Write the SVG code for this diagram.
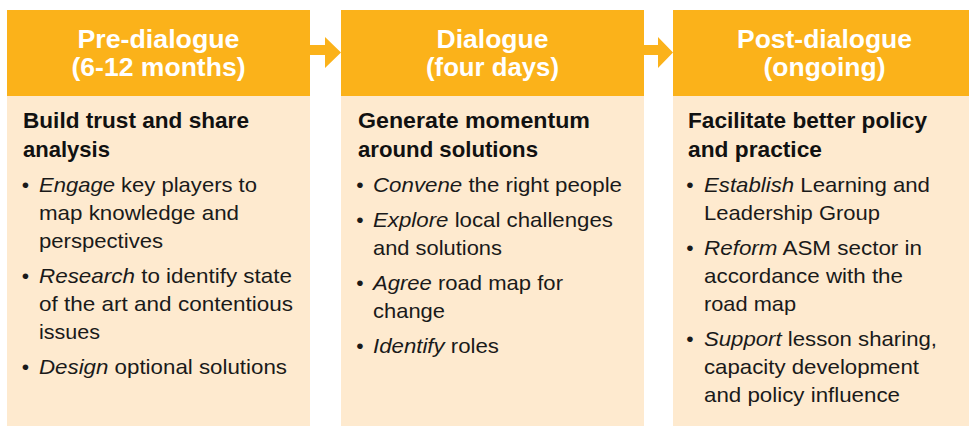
<svg xmlns="http://www.w3.org/2000/svg" width="969" height="426" viewBox="0 0 969 426">
<style>
.hdr{fill:#FBB21A}
.body{fill:#FEEACF}
.ht{font-family:"Liberation Sans",Arial,sans-serif;font-weight:bold;font-size:25px;fill:#ffffff;text-anchor:middle}
.bh{font-family:"Liberation Sans",Arial,sans-serif;font-weight:bold;font-size:21.5px;fill:#111111}
.bt{font-family:"Liberation Sans",Arial,sans-serif;font-size:21px;fill:#1a1a1a}
.bu{font-family:"Liberation Sans",Arial,sans-serif;font-size:21px;fill:#1a1a1a;text-anchor:middle}
.it{font-style:italic}
.arr{fill:#FBB21A}
</style>
<rect width="969" height="426" fill="#ffffff"/>
<g id="connectors">
<path class="arr" d="M310 45H325V37L341 52.5L325 68V55H310Z"/>
<path class="arr" d="M644 45H658V37L673 52.5L658 68V55H644Z"/>
</g>
<g id="pre-dialogue">
<rect class="hdr" x="7" y="10" width="303" height="86"/>
<rect class="body" x="7" y="96" width="303" height="330"/>
<text class="ht" x="158.5" y="48" textLength="162" lengthAdjust="spacingAndGlyphs">Pre-dialogue</text>
<text class="ht" x="158.5" y="75.5" textLength="174" lengthAdjust="spacingAndGlyphs">(6-12 months)</text>
<text class="bh" x="23" y="128" textLength="226" lengthAdjust="spacingAndGlyphs">Build trust and share</text>
<text class="bh" x="23" y="157" textLength="87" lengthAdjust="spacingAndGlyphs">analysis</text>
<text class="bu" x="25.5" y="192">•</text>
<text class="bt" x="39" y="192" textLength="218" lengthAdjust="spacingAndGlyphs"><tspan class="it">Engage</tspan> key players to</text>
<text class="bt" x="39" y="220" textLength="200" lengthAdjust="spacingAndGlyphs">map knowledge and</text>
<text class="bt" x="39" y="248" textLength="124" lengthAdjust="spacingAndGlyphs">perspectives</text>
<text class="bu" x="25.5" y="283">•</text>
<text class="bt" x="39" y="283" textLength="253" lengthAdjust="spacingAndGlyphs"><tspan class="it">Research</tspan> to identify state</text>
<text class="bt" x="39" y="311" textLength="254" lengthAdjust="spacingAndGlyphs">of the art and contentious</text>
<text class="bt" x="39" y="339" textLength="61" lengthAdjust="spacingAndGlyphs">issues</text>
<text class="bu" x="25.5" y="374">•</text>
<text class="bt" x="39" y="374" textLength="248" lengthAdjust="spacingAndGlyphs"><tspan class="it">Design</tspan> optional solutions</text>
</g>
<g id="dialogue">
<rect class="hdr" x="341" y="10" width="303" height="86"/>
<rect class="body" x="341" y="96" width="303" height="330"/>
<text class="ht" x="492.5" y="48" textLength="112" lengthAdjust="spacingAndGlyphs">Dialogue</text>
<text class="ht" x="492.5" y="75.5" textLength="133" lengthAdjust="spacingAndGlyphs">(four days)</text>
<text class="bh" x="358" y="128" textLength="232" lengthAdjust="spacingAndGlyphs">Generate momentum</text>
<text class="bh" x="358" y="157" textLength="180" lengthAdjust="spacingAndGlyphs">around solutions</text>
<text class="bu" x="360" y="192">•</text>
<text class="bt" x="373" y="192" textLength="249" lengthAdjust="spacingAndGlyphs"><tspan class="it">Convene</tspan> the right people</text>
<text class="bu" x="360" y="227">•</text>
<text class="bt" x="373" y="227" textLength="240" lengthAdjust="spacingAndGlyphs"><tspan class="it">Explore</tspan> local challenges</text>
<text class="bt" x="373" y="255" textLength="129" lengthAdjust="spacingAndGlyphs">and solutions</text>
<text class="bu" x="360" y="290">•</text>
<text class="bt" x="373" y="290" textLength="190" lengthAdjust="spacingAndGlyphs"><tspan class="it">Agree</tspan> road map for</text>
<text class="bt" x="373" y="318" textLength="72" lengthAdjust="spacingAndGlyphs">change</text>
<text class="bu" x="360" y="353">•</text>
<text class="bt" x="373" y="353" textLength="126" lengthAdjust="spacingAndGlyphs"><tspan class="it">Identify</tspan> roles</text>
</g>
<g id="post-dialogue">
<rect class="hdr" x="673" y="10" width="303" height="86"/>
<rect class="body" x="673" y="96" width="303" height="330"/>
<text class="ht" x="824.5" y="48" textLength="175" lengthAdjust="spacingAndGlyphs">Post-dialogue</text>
<text class="ht" x="824.5" y="75.5" textLength="122" lengthAdjust="spacingAndGlyphs">(ongoing)</text>
<text class="bh" x="688" y="128" textLength="239" lengthAdjust="spacingAndGlyphs">Facilitate better policy</text>
<text class="bh" x="688" y="157" textLength="134" lengthAdjust="spacingAndGlyphs">and practice</text>
<text class="bu" x="690" y="192">•</text>
<text class="bt" x="704" y="192" textLength="226" lengthAdjust="spacingAndGlyphs"><tspan class="it">Establish</tspan> Learning and</text>
<text class="bt" x="704" y="220" textLength="176" lengthAdjust="spacingAndGlyphs">Leadership Group</text>
<text class="bu" x="690" y="255">•</text>
<text class="bt" x="704" y="255" textLength="218" lengthAdjust="spacingAndGlyphs"><tspan class="it">Reform</tspan> ASM sector in</text>
<text class="bt" x="704" y="283" textLength="199" lengthAdjust="spacingAndGlyphs">accordance with the</text>
<text class="bt" x="704" y="311" textLength="92" lengthAdjust="spacingAndGlyphs">road map</text>
<text class="bu" x="690" y="346">•</text>
<text class="bt" x="704" y="346" textLength="233" lengthAdjust="spacingAndGlyphs"><tspan class="it">Support</tspan> lesson sharing,</text>
<text class="bt" x="704" y="374" textLength="215" lengthAdjust="spacingAndGlyphs">capacity development</text>
<text class="bt" x="704" y="402" textLength="196" lengthAdjust="spacingAndGlyphs">and policy influence</text>
</g>
</svg>
